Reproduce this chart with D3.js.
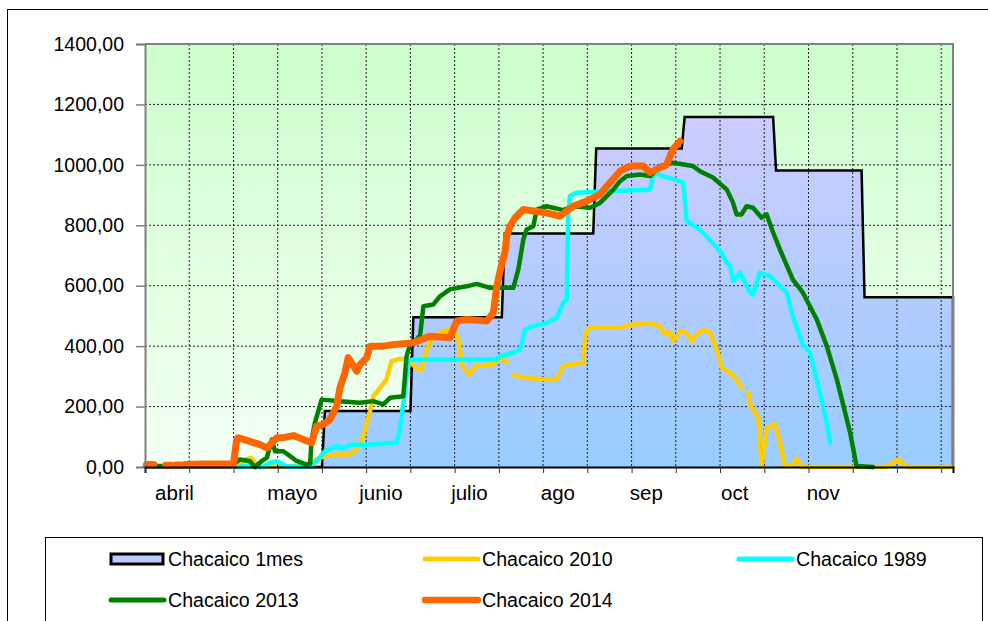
<!DOCTYPE html>
<html><head><meta charset="utf-8">
<script src="https://cdn.jsdelivr.net/npm/d3@7"></script>
<style>
body{margin:0;background:#fff}
svg{display:block}
text{font-family:"Liberation Sans",Arial,sans-serif;fill:#000}
</style>
</head><body>
<svg id="chart" width="988" height="621"></svg>
<script>
// ---------------- DATA ----------------
// day index: 0 = 1 April
const monthStarts = [0, 30, 61, 91, 122, 153, 183, 214, 244];
const values1mes  = [0, 0, 185, 496, 773, 1054, 1158, 981, 562];
const lastDay = 274;

const xLabels    = ["abril", "mayo", "junio", "julio", "ago", "sep", "oct", "nov"];
const xLabelDays = [10, 50, 80, 110, 140, 170, 200, 230];
const yTicks = [0, 200, 400, 600, 800, 1000, 1200, 1400];

const series2010 = [[31,0],[34,25],[36,30],[37.5,12],[39,0],null,[41,2],[44,3],null,[46,2],[52,3],[55,8],[58,25],[61,36],[65,41],[69,41],[71.8,58],[74,102],[76.3,185],[77.4,234],[79.7,262],[81.9,290],[83.6,350],[86.4,358],[88.7,356],[92,328],[93.6,320],[94.3,345],[95.5,389],[97.8,433],[101.2,450],[104.6,455],[106.3,422],[107.5,334],[110,306],[112.2,334],[117.6,339],[120.4,356],[122.7,350],null,[124.9,306],[128.2,295],[136.2,290],[139.6,290],[141.8,334],[148.6,345],[149.4,444],[150.9,461],[161,461],[165.5,472],[171.3,475],[174.6,466],[176.3,439],[177.9,448],[179.1,417],[181.5,450],[183.7,444],[185.4,417],[187.1,439],[189.4,455],[191.6,444],[193.9,389],[195.6,328],[198.4,312],[200.6,290],[202.3,262],null,[204.6,246],[205.2,207],[208,163],[209.1,3],[210.8,130],[213.6,141],[214.8,102],[217,3],[219.3,3],[221,27],[222.7,0],[251.5,0],[255.4,25],[258.3,0],[274,0]];

const series1989 = [[31,0],[35.6,5],[37.3,0],[40,0],[42.4,14],[44.7,19],[48.1,2],[56,2],[58.2,19],[61,52],[65,69],[67.3,63],[69.5,74],[75.2,74],[85.3,80],[86.4,124],[88.1,245],[89.2,350],[90.9,356],[119.3,356],[120.4,367],[124.9,378],[127.2,389],[128.9,455],[131.7,466],[136.2,477],[139.6,494],[141.8,543],[143,554],[143.5,830],[144.1,896],[146.3,908],[156.6,913],[171.3,918],[172.5,974],[175.6,963],[180,950],[182.5,941],[183.7,814],[188.2,786],[191.5,753],[195,715],[197.3,676],[198.4,665],[199.5,615],[201.8,643],[205.2,577],[206.2,571],[208.5,643],[211.9,632],[217.6,577],[219.7,499],[223.1,405],[225.5,379],[228.9,246],[231.2,147],[232.3,81]];

const series2013 = [[0,3],[29,3],[32.2,25],[35.6,19],[37.3,0],[39.6,20],[41.3,30],[43,91],[44.1,52],[46.9,52],[49.2,36],[51.4,20],[54.8,8],[56,10],[56.5,91],[57.6,146],[59.9,223],[66.1,218],[72.9,213],[77.4,218],[80.8,207],[83.1,229],[87.6,234],[88.7,367],[89.9,405],[92.1,422],[93.3,436],[94.4,532],[97.8,538],[100,565],[103.4,588],[109.1,598],[112.5,606],[117,593],[124.9,593],[126.6,654],[128.3,753],[129.4,786],[131.7,797],[132.8,852],[136.2,863],[141.8,850],[145.2,863],[150.9,858],[154.3,874],[158.8,918],[161.1,946],[163.4,963],[167.9,968],[171.3,963],[174.7,996],[179,1007],[185.8,996],[188.2,979],[192.6,958],[197.3,918],[199.4,875],[200.6,836],[202.3,836],[204,863],[206.2,858],[209.1,825],[210.8,836],[213,776],[215.3,720],[219.7,620],[223.1,577],[227.8,488],[231.2,400],[234.6,290],[239.1,114],[241.3,3],[246.9,0]];

const series2014 = [[0.5,8],[3,8],null,[7,6],[9,6],null,[10.5,7],[12,7],null,[13.5,8],[20,10],[30,10],[31.1,91],[31.5,97],[35.6,85],[39,74],[41.3,63],[43,80],[44.7,97],[46.9,97],[50.3,104],[53.7,91],[56.5,80],[58.2,135],[60.5,141],[62.7,157],[65,201],[66.1,262],[67.8,312],[68.9,362],[71.8,317],[72.9,339],[75.2,362],[76.3,400],[80.8,400],[84.2,405],[91,411],[96.6,433],[103.4,428],[105.7,483],[109.1,488],[115.9,483],[118.1,510],[119.3,598],[120.4,648],[122.1,714],[122.7,764],[123.8,797],[125.5,825],[128.3,852],[131.7,847],[136.2,841],[140.7,830],[145.2,863],[149.8,880],[154.3,902],[156.6,929],[161.1,979],[164.5,996],[168.9,996],[171.3,975],[174.7,991],[176.9,1001],[179,1051],[181.4,1078]];

const legendNames  = ["Chacaico 1mes", "Chacaico 2010", "Chacaico 1989", "Chacaico 2013", "Chacaico 2014"];
const legendColors = ["#000000", "#FFCC00", "#00FFFF", "#008000", "#FF6600"];

// ---------------- CHART ----------------
const svg = d3.select("#chart");
const P = {l:145, t:44, r:953, b:467};
const x = d3.scaleLinear().domain([0, lastDay]).range([P.l, P.r]);
const y = d3.scaleLinear().domain([0, 1400]).range([P.b, P.t]);

const defs = svg.append("defs");
const bg = defs.append("linearGradient").attr("id","bgGrad").attr("x1",0).attr("y1",0).attr("x2",0).attr("y2",1);
bg.append("stop").attr("offset","0%").attr("stop-color","#CCFFCC");
bg.append("stop").attr("offset","100%").attr("stop-color","#F4FFF4");
const ag = defs.append("linearGradient").attr("id","areaGrad").attr("x1",0).attr("y1",0).attr("x2",0).attr("y2",1);
ag.append("stop").attr("offset","0%").attr("stop-color","#CCCCFF");
ag.append("stop").attr("offset","100%").attr("stop-color","#99CCFF");

// outer frame
svg.append("rect").attr("x",7.5).attr("y",9.5).attr("width",990).attr("height",620)
  .attr("fill","none").attr("stroke","#000").attr("stroke-width",1);

// plot background
svg.append("rect").attr("x",P.l).attr("y",P.t).attr("width",P.r-P.l).attr("height",P.b-P.t)
  .attr("fill","url(#bgGrad)");

// step series points
const stepPts = [];
monthStarts.forEach((s,i) => {
  const e = i < monthStarts.length-1 ? monthStarts[i+1]-1 : lastDay;
  stepPts.push([s, values1mes[i]]);
  stepPts.push([e, values1mes[i]]);
});

const area = d3.area().x(d=>x(d[0])).y0(y(0)).y1(d=>y(d[1]));
svg.append("path").datum(stepPts).attr("d",area).attr("fill","url(#areaGrad)");

// grid lines
const gridG = svg.append("g");
yTicks.filter(v=>v>0 && v<1400).forEach(v=>{
  gridG.append("line").attr("x1",P.l).attr("x2",P.r).attr("y1",y(v)).attr("y2",y(v))
    .attr("stroke","#222").attr("stroke-width",1).attr("stroke-dasharray","2,2");
});
d3.range(15, lastDay, 15).forEach(d=>{
  gridG.append("line").attr("x1",x(d)).attr("x2",x(d)).attr("y1",P.t).attr("y2",P.b)
    .attr("stroke","#222").attr("stroke-width",1).attr("stroke-dasharray","2,2");
});

// step outline
const stepLine = d3.line().x(d=>x(d[0])).y(d=>y(d[1]));
svg.append("path").datum(stepPts.concat([[lastDay,0]])).attr("d",stepLine)
  .attr("fill","none").attr("stroke","#000").attr("stroke-width",2.5).attr("stroke-linejoin","miter");

// lines
const line = d3.line().defined(d=>d!==null).x(d=>x(d[0])).y(d=>y(d[1]));
const lineSeries = [
  {data:series2010, color:legendColors[1], w:4.5},
  {data:series1989, color:legendColors[2], w:4.5},
  {data:series2013, color:legendColors[3], w:4.5},
  {data:series2014, color:legendColors[4], w:7}
];
lineSeries.forEach(s=>{
  svg.append("path").datum(s.data).attr("d",line).attr("fill","none")
    .attr("stroke",s.color).attr("stroke-width",s.w)
    .attr("stroke-linejoin","round").attr("stroke-linecap","round");
});

// plot border top & right
svg.append("path").attr("d",`M${P.l},${P.t}H${P.r}V${P.b}`).attr("fill","none")
  .attr("stroke","#808080").attr("stroke-width",2);

// y axis
const fmt = v => d3.format(".2f")(v).replace(".", ",");
const yAxis = svg.append("g").attr("transform",`translate(${P.l},0)`)
  .call(d3.axisLeft(y).tickValues(yTicks).tickFormat(fmt).tickSize(9).tickPadding(12));
yAxis.select(".domain").attr("stroke","#808080").attr("stroke-width",2);
yAxis.selectAll(".tick line").attr("stroke","#808080").attr("stroke-width",1.5);
yAxis.selectAll("text").attr("font-size",19.5).attr("font-family","'Liberation Sans',Arial,sans-serif").attr("fill","#000");

// x axis
const xAxis = svg.append("g").attr("transform",`translate(0,${P.b})`)
  .call(d3.axisBottom(x).tickValues(d3.range(0, lastDay, 15)).tickFormat("").tickSize(6));
xAxis.select(".domain").attr("stroke","#000").attr("stroke-width",2);
xAxis.selectAll(".tick line").attr("stroke","#333").attr("stroke-width",1);

svg.append("g").selectAll("text").data(xLabels).join("text")
  .attr("x",(d,i)=>x(xLabelDays[i])).attr("y",500)
  .attr("text-anchor","middle").attr("font-size",20.5).text(d=>d);

// legend
svg.append("rect").attr("x",45.5).attr("y",537.5).attr("width",937).attr("height",100)
  .attr("fill","#fff").attr("stroke","#000").attr("stroke-width",1);

const legPos = [[110,559],[424,559],[738,559],[110,600],[424,600]];
legendNames.forEach((name,i)=>{
  const [lx,ly] = legPos[i];
  if(i===0){
    svg.append("rect").attr("x",lx+1).attr("y",ly-5).attr("width",52).attr("height",10)
      .attr("fill","#BBCCFF").attr("stroke","#000").attr("stroke-width",3);
  } else {
    svg.append("line").attr("x1",lx+1).attr("x2",lx+54).attr("y1",ly).attr("y2",ly)
      .attr("stroke",legendColors[i]).attr("stroke-width",i===4?6.5:5).attr("stroke-linecap","round");
  }
  svg.append("text").attr("x",lx+58).attr("y",ly+7).attr("font-size",19.6).text(name);
});
</script>
</body></html>
